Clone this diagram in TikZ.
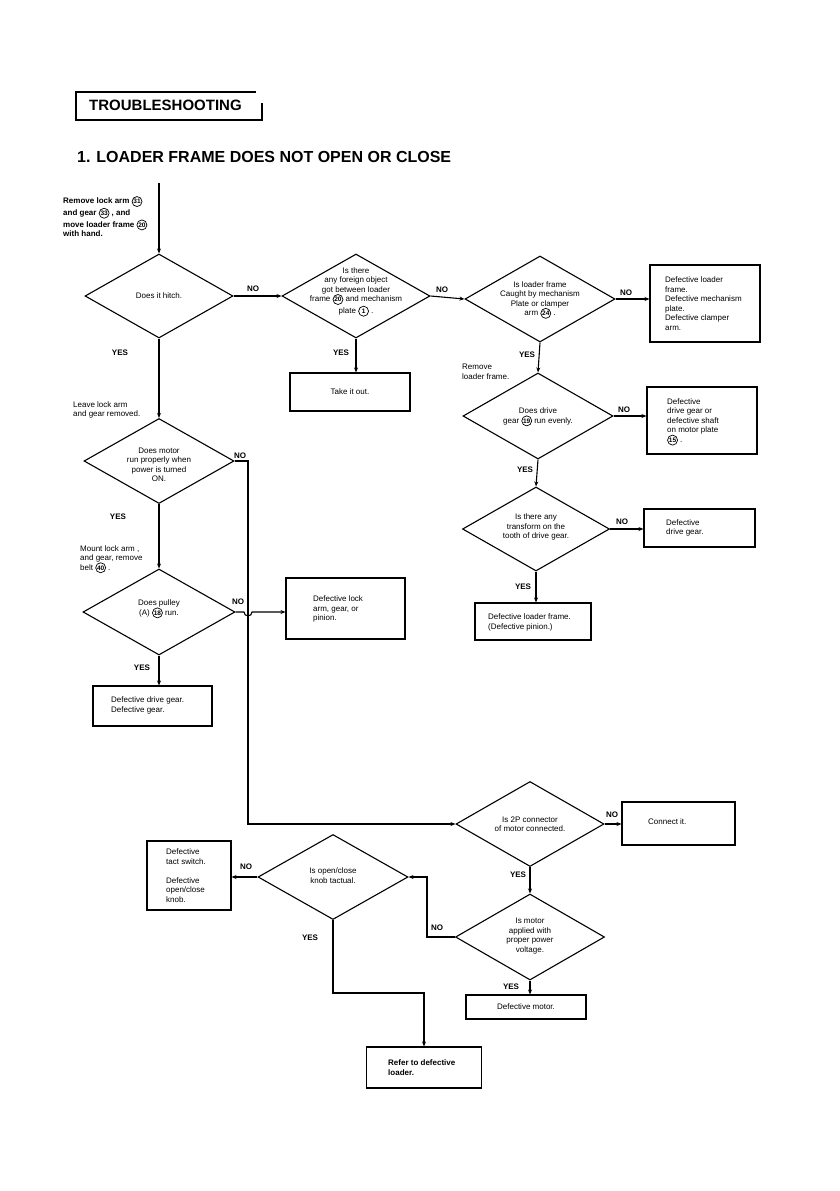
\documentclass[tikz,border=0pt]{standalone}
\usepackage{fontspec}
\setmainfont{Liberation Sans}
\usetikzlibrary{shapes.geometric,arrows.meta}
\newcommand\cn[1]{\tikz[baseline=(cnx.base)]\node[draw,circle,line width=0.7pt,inner sep=0pt,minimum size=10pt,font=\fontsize{6.5}{6.5}\selectfont\bfseries](cnx){#1};}
\tikzset{
 dia/.style={draw, diamond, line width=1.1pt, inner sep=0pt},
 box/.style={draw, rectangle, line width=1.1pt, inner sep=0pt},
 txt/.style={font=\fontsize{8}{9.5}\selectfont, align=center, inner sep=0pt},
 ltxt/.style={font=\fontsize{8}{9.5}\selectfont, align=left, inner sep=0pt, anchor=west},
 yn/.style={font=\fontsize{8}{8}\selectfont\bfseries, inner sep=0pt},
 note/.style={font=\fontsize{8}{9.5}\selectfont, align=left, inner sep=0pt, anchor=north west},
 arr/.style={line width=1.1pt, -{Stealth[length=5pt,width=4pt]}},
 ln/.style={line width=1.1pt},
}
\begin{document}
\begin{tikzpicture}[x=1pt,y=-1pt]
\path[use as bounding box, fill=white] (0,0) rectangle (839,1191);
% header
\draw[line width=1.1pt] (256,92) -- (76,92) -- (76,120) -- (262,120) -- (262,103);
\node[anchor=base west, inner sep=0pt, font=\fontsize{15}{15}\selectfont\bfseries] (hdr) at (89,110) {TROUBLESHOOTING};
\node[anchor=base west, inner sep=0pt, font=\fontsize{16}{16}\selectfont\bfseries] (ttl) at (77,162) {1. LOADER FRAME DOES NOT OPEN OR CLOSE};
% start note
\coordinate (s0) at (159,183);
\node[note, font=\fontsize{8}{9.5}\selectfont\bfseries] (n0) at (63,196) {Remove lock arm \cn{31}\\and gear \cn{33} , and\\move loader frame \cn{20}\\with hand.};
% diamonds
\node[dia, minimum width=148pt, minimum height=84pt] (d1) at (159,296) {};
\node[txt] (t1) at (159,296) {Does it hitch.};
\node[dia, minimum width=148pt, minimum height=84pt] (d2) at (356,296) {};
\node[txt] (t2) at (356,292) {Is there\\any foreign object\\got between loader\\frame \cn{20} and mechanism\\plate \cn{1} .};
\node[dia, minimum width=150pt, minimum height=86pt] (d3) at (540,299) {};
\node[txt] (t3) at (540,300) {Is loader frame\\Caught by mechanism\\Plate or clamper\\arm \cn{24} .};
\node[dia, minimum width=150pt, minimum height=86pt] (d4) at (538,416) {};
\node[txt] (t4) at (538,417) {Does drive\\gear \cn{19} run evenly.};
\node[dia, minimum width=147pt, minimum height=84pt] (d5) at (536,529) {};
\node[txt] (t5) at (536,527) {Is there any\\transform on the\\tooth of drive gear.};
\node[dia, minimum width=150pt, minimum height=85pt] (d6) at (159,461) {};
\node[txt] (t6) at (159,465) {Does motor\\run properly when\\power is turned\\ON.};
\node[dia, minimum width=152pt, minimum height=86pt] (d8) at (159,612) {};
\node[txt] (t8) at (159,609) {Does pulley\\(A) \cn{18} run.};
\node[dia, minimum width=148pt, minimum height=85pt] (d7) at (530,824) {};
\node[txt] (t7) at (530,824) {Is 2P connector\\of motor connected.};
\node[dia, minimum width=149pt, minimum height=86pt] (d9) at (530,937) {};
\node[txt] (t9) at (530,936) {Is motor\\applied with\\proper power\\voltage.};
\node[dia, minimum width=150pt, minimum height=85pt] (d10) at (333,877) {};
\node[txt] (t10) at (333,875.5) {Is open/close\\knob tactual.};
% boxes
\node[box, minimum width=120pt, minimum height=38pt] (btake) at (350,392) {};
\node[txt] (ttake) at (350,392) {Take it out.};
\node[box, minimum width=110pt, minimum height=77pt] (b3) at (705,303.5) {};
\node[ltxt] (tb3) at (665,303.5) {Defective loader\\frame.\\Defective mechanism\\plate.\\Defective clamper\\arm.};
\node[box, minimum width=110pt, minimum height=67pt] (b4) at (702,420.5) {};
\node[ltxt] (tb4) at (667,422) {Defective\\drive gear or\\defective shaft\\on motor plate\\\cn{15} .};
\node[box, minimum width=111pt, minimum height=38pt] (b5) at (699.5,528) {};
\node[ltxt] (tb5) at (666,528) {Defective\\drive gear.};
\node[box, minimum width=116pt, minimum height=37pt] (b6) at (533,621.5) {};
\node[ltxt] (tb6) at (488,622.5) {Defective loader frame.\\(Defective pinion.)};
\node[box, minimum width=119pt, minimum height=61pt] (b8) at (345.5,608.5) {};
\node[ltxt] (tb8) at (313,609) {Defective lock\\arm, gear, or\\pinion.};
\node[box, minimum width=119pt, minimum height=40pt] (b9) at (152.5,706) {};
\node[ltxt] (tb9) at (111,705.5) {Defective drive gear.\\Defective gear.};
\node[box, minimum width=113pt, minimum height=43pt] (b7) at (678.5,823.5) {};
\node[ltxt] (tb7) at (648,822) {Connect it.};
\node[box, minimum width=120pt, minimum height=24pt] (b10) at (526,1007) {};
\node[txt] (tb10) at (526,1007) {Defective motor.};
\node[box, minimum width=84pt, minimum height=69pt] (b11) at (189,875.5) {};
\node[ltxt] (tb11) at (166,875.5) {Defective\\tact switch.\\[9.5pt]Defective\\open/close\\knob.};
\node[box, minimum width=115pt, minimum height=41pt] (b12) at (424,1067.5) {};
\node[ltxt, font=\fontsize{8}{9.5}\selectfont\bfseries] (tb12) at (388,1067.5) {Refer to defective\\loader.};
% notes
\node[note] (n1) at (73,401) {Leave lock arm\\and gear removed.};
\node[note] (n2) at (80,545) {Mount lock arm ,\\and gear, remove\\belt \cn{40} .};
\node[note] (n3) at (462,364) {Remove\\loader frame.};
% connectors
\coordinate (j1) at (248,824);
\coordinate (j2) at (427,877);
\coordinate (j3) at (424,993);
\draw[arr] (s0) -- (d1.north);
\draw[arr] (d1.east) -- (d2.west);
\draw[arr] (d2.east) -- (d3.west);
\draw[arr] (d2.south) -- (d2.south |- btake.north);
\draw[arr] (d3.east) -- (b3.west |- d3.east);
\draw[arr] (d3.south) -- (d4.north);
\draw[arr] (d4.east) -- (b4.west |- d4.east);
\draw[arr] (d4.south) -- (d5.north);
\draw[arr] (d5.east) -- (b5.west |- d5.east);
\draw[arr] (d5.south) -- (d5.south |- b6.north);
\draw[arr] (d1.south) -- (d6.north);
\draw[arr] (d6.south) -- (d8.north);
\draw[arr] (d6.east) -| (j1) -- (d7.west);
\draw[arr] (d8.east) -- (244,612) arc[start angle=180, end angle=360, radius=4pt] -- (b8.west |- d8.east);
\draw[arr] (d8.south) -- (d8.south |- b9.north);
\draw[arr] (d7.east) -- (b7.west |- d7.east);
\draw[arr] (d7.south) -- (d9.north);
\draw[arr] (d9.west) -| (j2) -- (d10.east);
\draw[arr] (d9.south) -- (d9.south |- b10.north);
\draw[arr] (d10.west) -- (b11.east |- d10.west);
\draw[arr] (d10.south) |- (j3) -- (b12.north);
% yes/no labels
\node[yn] (l1) at (253,289) {NO};
\node[yn] (l2) at (442,290) {NO};
\node[yn] (l3) at (341,353) {YES};
\node[yn] (l4) at (626,293) {NO};
\node[yn] (l5) at (527,355) {YES};
\node[yn] (l6) at (624,410) {NO};
\node[yn] (l7) at (525,470) {YES};
\node[yn] (l8) at (622,522) {NO};
\node[yn] (l9) at (523,587) {YES};
\node[yn] (l10) at (120,353) {YES};
\node[yn] (l11) at (240,456) {NO};
\node[yn] (l12) at (118,517) {YES};
\node[yn] (l13) at (238,602) {NO};
\node[yn] (l14) at (142,668) {YES};
\node[yn] (l15) at (612,815) {NO};
\node[yn] (l16) at (518,875) {YES};
\node[yn] (l17) at (437,928) {NO};
\node[yn] (l18) at (511,987) {YES};
\node[yn] (l19) at (246,867) {NO};
\node[yn] (l20) at (310,938) {YES};
\end{tikzpicture}
\end{document}
